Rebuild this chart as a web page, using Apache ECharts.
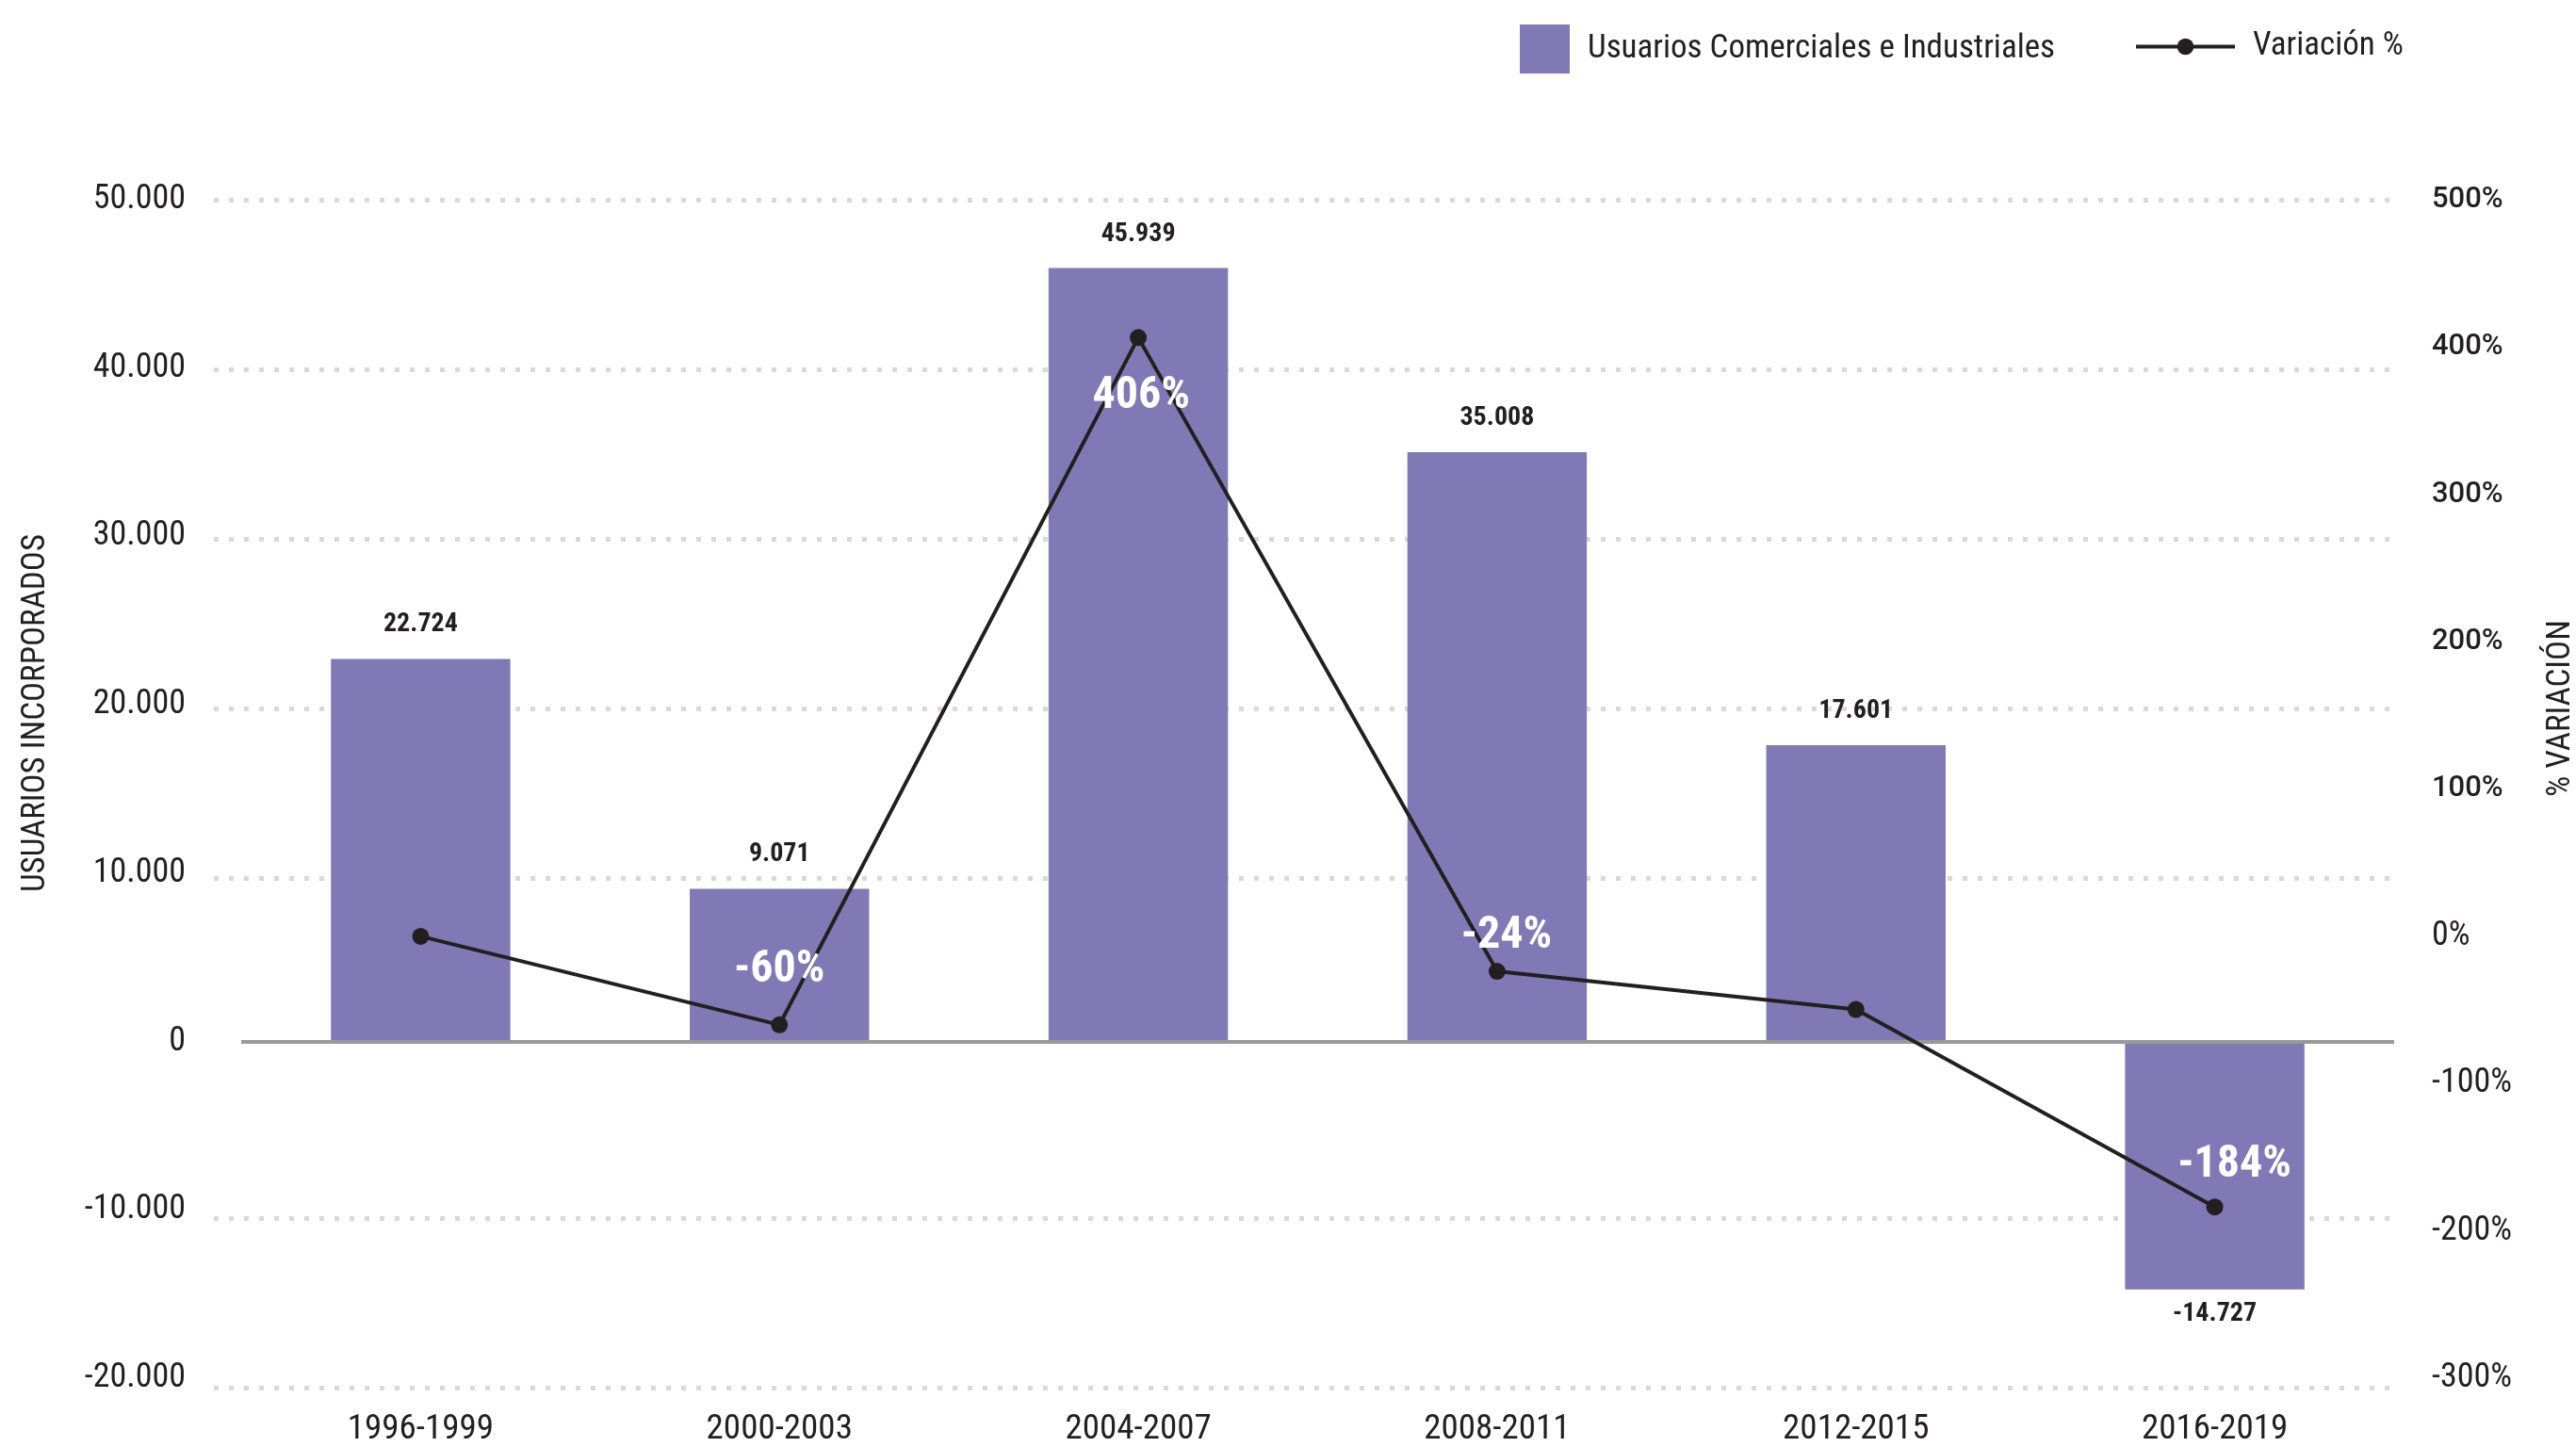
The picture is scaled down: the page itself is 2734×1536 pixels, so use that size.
<!DOCTYPE html>
<html>
<head>
<meta charset="utf-8">
<script src="https://cdn.jsdelivr.net/npm/echarts@6/dist/echarts.min.js"></script>
<style>
  html, body { margin: 0; padding: 0; background: #ffffff; }
  #chart { width: 2734px; height: 1536px; }
</style>
</head>
<body>
<div id="chart"></div>
<script>
// ---- Data ----
const categories = ['1996-1999', '2000-2003', '2004-2007', '2008-2011', '2012-2015', '2016-2019'];
const usuarios = [22724, 9071, 45939, 35008, 17601, -14727];
const variacion = [0, -60.1, 406.4, -23.8, -49.7, -183.7];
const showVarLabel = [false, true, true, true, false, true];
const leftTicks = { min: -20000, max: 50000, interval: 10000 };
const rightTicks = { min: -300, max: 500, interval: 100 };

const FONT = '"Roboto Condensed", "Liberation Sans Narrow", "Arial Narrow", "DejaVu Sans Condensed", sans-serif';
const TXT = '#231f20';
const GRID_TOP = 212, GRID_BOTTOM = 63;

function fmtThousands(v) {
  const neg = v < 0;
  const s = Math.abs(Math.round(v)).toString().replace(/\B(?=(\d{3})+(?!\d))/g, '.');
  return (neg ? '-' : '') + s;
}

const varLabelCfg = [
  null,
  { position: 'top', distance: 25, offset: [0, 0] },
  { position: 'bottom', distance: 30, offset: [3, 0] },
  { position: 'top', distance: 4, offset: [10, 0] },
  null,
  { position: 'top', distance: 11, offset: [21, 0] }
];

const barData = usuarios.map(v => ({
  value: v,
  label: v >= 0 ? { position: 'top', distance: 22 } : { position: 'bottom', distance: 12 }
}));

const lineData = variacion.map((v, i) => {
  const c = varLabelCfg[i];
  return {
    value: v,
    label: showVarLabel[i] ? Object.assign({ show: true }, c) : { show: false }
  };
});

// split line colours: hide the one at zero (drawn as solid axis line)
const nLines = (leftTicks.max - leftTicks.min) / leftTicks.interval + 1;
const splitColors = [];
for (let i = 0; i < nLines; i++) {
  splitColors.push(leftTicks.min + i * leftTicks.interval === 0 ? 'rgba(0,0,0,0)' : '#d9d9d9');
}

const chart = echarts.init(document.getElementById('chart'), null, { renderer: 'canvas' });

chart.setOption({
  backgroundColor: '#ffffff',
  animation: false,
  grid: [
    { left: 256, right: 193, top: GRID_TOP, bottom: GRID_BOTTOM, containLabel: false },
    { left: 227, right: 188, top: GRID_TOP, bottom: GRID_BOTTOM, containLabel: false }
  ],
  legend: [
    {
      data: [{ name: 'Usuarios Comerciales e Industriales', icon: 'rect' }],
      left: 1608, top: 21,
      itemWidth: 53, itemHeight: 52,
      textStyle: { fontFamily: FONT, fontSize: 35, color: TXT, padding: [0, 0, 0, 14] },
      selectedMode: false
    },
    {
      data: ['Variación %'],
      left: 2260, top: 27,
      itemWidth: 105, itemHeight: 22,
      lineStyle: { width: 4, color: TXT },
      textStyle: { fontFamily: FONT, fontSize: 35, color: TXT, padding: [0, 0, 0, 14] },
      selectedMode: false
    }
  ],
  xAxis: [
    {
      type: 'category',
      gridIndex: 0,
      data: categories,
      axisLine: { show: false, onZero: false },
      axisTick: { show: false },
      axisLabel: { margin: 36, fontFamily: FONT, fontSize: 37, color: TXT }
    },
    { type: 'value', gridIndex: 1, min: 0, max: 1, show: false }
  ],
  yAxis: [
    {
      type: 'value',
      gridIndex: 0,
      min: leftTicks.min, max: leftTicks.max, interval: leftTicks.interval,
      axisLine: { show: false }, axisTick: { show: false },
      axisLabel: { margin: 59, fontFamily: FONT, fontSize: 36, color: TXT, formatter: v => fmtThousands(v) },
      splitLine: { show: false }
    },
    {
      type: 'value',
      gridIndex: 0,
      min: rightTicks.min, max: rightTicks.max, interval: rightTicks.interval,
      axisLine: { show: false }, axisTick: { show: false },
      splitLine: { show: false },
      axisLabel: {
        margin: 40,
        formatter: v => (v > 0 ? '{w|' + v + '%}' : '{n|' + v + '%}'),
        rich: {
          w: { fontFamily: 'Roboto, sans-serif', fontWeight: 500, fontSize: 31, color: TXT },
          n: { fontFamily: FONT, fontSize: 36, color: TXT }
        }
      }
    },
    {
      type: 'value',
      gridIndex: 1,
      min: leftTicks.min, max: leftTicks.max, interval: leftTicks.interval,
      axisLine: { show: false }, axisTick: { show: false }, axisLabel: { show: false },
      splitLine: { show: true, lineStyle: { color: splitColors, width: 5, type: [5, 11] } }
    }
  ],
  graphic: [
    {
      type: 'text', rotation: Math.PI / 2,
      x: 38, y: 757,
      style: { text: 'USUARIOS INCORPORADOS', fontFamily: FONT, fontSize: 35, fill: TXT, align: 'center', verticalAlign: 'middle' }
    },
    {
      type: 'text', rotation: Math.PI / 2,
      x: 2718, y: 752,
      style: { text: '% VARIACIÓN', fontFamily: FONT, fontSize: 35, fill: TXT, align: 'center', verticalAlign: 'middle' }
    }
  ],
  series: [
    {
      name: 'Usuarios Comerciales e Industriales',
      type: 'bar',
      xAxisIndex: 0,
      yAxisIndex: 0,
      barWidth: '50%',
      data: barData,
      itemStyle: { color: '#8079b5' },
      z: 3,
      label: { show: true, fontFamily: FONT, fontWeight: 'bold', fontSize: 28, color: TXT, formatter: p => fmtThousands(p.value) },
      markLine: {
        silent: true, symbol: 'none', label: { show: false },
        lineStyle: { color: '#999999', width: 4, type: 'solid' },
        data: [{ yAxis: 0 }]
      }
    },
    {
      name: 'Variación %',
      type: 'line',
      xAxisIndex: 0,
      yAxisIndex: 1,
      data: lineData,
      symbol: 'circle', symbolSize: 18,
      lineStyle: { color: TXT, width: 4 },
      itemStyle: { color: TXT },
      z: 5,
      label: {
        fontFamily: FONT, fontWeight: 'bold', fontSize: 48, color: '#ffffff',
        formatter: p => Math.round(p.value) + '%'
      }
    }
  ]
});
</script>
</body>
</html>
